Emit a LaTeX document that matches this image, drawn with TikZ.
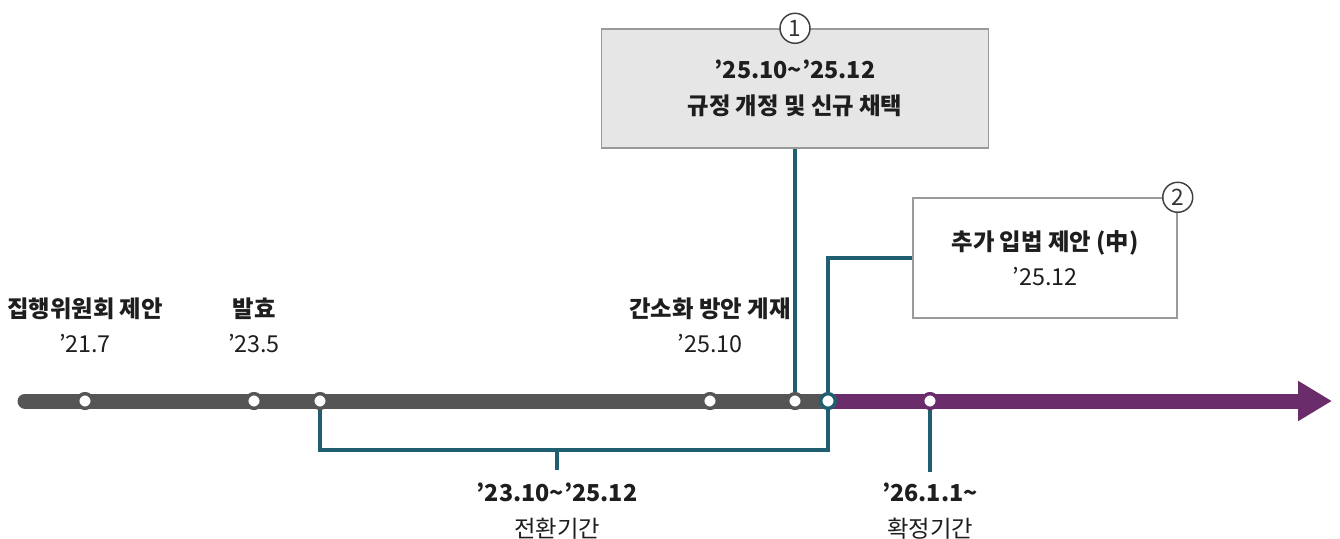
\documentclass[tikz,border=0pt]{standalone}
\usepackage{fontspec}
\setmainfont{Noto Sans CJK KR}
\usetikzlibrary{arrows.meta}
\definecolor{linegray}{HTML}{555555}
\definecolor{tlpurple}{HTML}{6A2C6A}
\definecolor{connteal}{HTML}{1F5F70}
\definecolor{boxgray}{HTML}{E6E6E6}
\definecolor{framegray}{HTML}{9A9A9A}
\definecolor{txt}{HTML}{1E1E1E}

\tikzset{
  dot/.style={circle, fill=white, draw=linegray, line width=2.6pt, minimum size=11pt, inner sep=0pt},
  conn/.style={draw=connteal, line width=2.3pt},
  evt/.style={align=center, text=txt, font=\fontsize{17.5}{26.5}\selectfont},
  infobox/.style={draw=framegray, line width=1.1pt, align=center, text=txt, font=\fontsize{17.5}{26.5}\selectfont},
  badge/.style={circle, draw=black!75, fill=white, line width=1.1pt, minimum size=22.5pt, inner sep=0pt, text=black!80, font=\fontsize{17}{17}\selectfont}
}

\begin{document}
\begin{tikzpicture}[x=0.75pt, y=-0.75pt]
    \useasboundingbox (0,0) rectangle (1340,539);

    % Timeline
    \coordinate (start) at (25,401);
    \coordinate (split) at (828,401);
    \coordinate (tip) at (1332,401);
    \draw[linegray, line width=11.25pt, line cap=round] (start) -- (split);
    \draw[tlpurple, line width=11.25pt, -{Triangle[length=25.5pt, width=28.5pt]}] (split) -- (tip);

    % Milestones
    \node[dot] (d1) at (85,401) {};
    \node[dot] (d2) at (254,401) {};
    \node[dot] (d3) at (320,401) {};
    \node[dot] (d4) at (710,401) {};
    \node[dot] (d5) at (795,401) {};
    \node[dot, draw=connteal] (d6) at (828,401) {};
    \node[dot, draw=tlpurple] (d7) at (930,401) {};

    % Labels above
    \node[evt] (l1) at (85,325) {\textbf{집행위원회 제안}\\’21.7};
    \node[evt] (l2) at (254,325) {\textbf{발효}\\’23.5};
    \node[evt] (l3) at (710,325) {\textbf{간소화 방안 게재}\\’25.10};

    % Boxes
    \node[infobox, fill=boxgray, minimum width=290.25pt, minimum height=89.25pt] (b1) at (795,88.5)
        {\textbf{’25.10\textasciitilde’25.12}\\\textbf{규정 개정 및 신규 채택}};
    \node[badge] (n1) at (b1.north) {1};
    \node[infobox, fill=white, minimum width=198pt, minimum height=90pt] (b2) at (1045,258)
        {\textbf{추가 입법 제안 (中)}\\’25.12};
    \node[badge] (n2) at (b2.north east) {2};

    % Connectors
    \draw[conn] (b1) -- (d5);
    \draw[conn] (b2.west) -| (d6);
    \coordinate (brk) at (557,450);
    \coordinate (brkend) at (557,470);
    \draw[conn] (d3) |- (brk) -| (d6);
    \draw[conn] (brk) -- (brkend);
    \coordinate (d7end) at (930,472);
    \draw[conn] (d7) -- (d7end);

    % Periods
    \node[evt] (p1) at (557,511) {\textbf{’23.10\textasciitilde’25.12}\\전환기간};
    \node[evt] (p2) at (930,511) {\textbf{’26.1.1\textasciitilde}\\확정기간};
\end{tikzpicture}
\end{document}
